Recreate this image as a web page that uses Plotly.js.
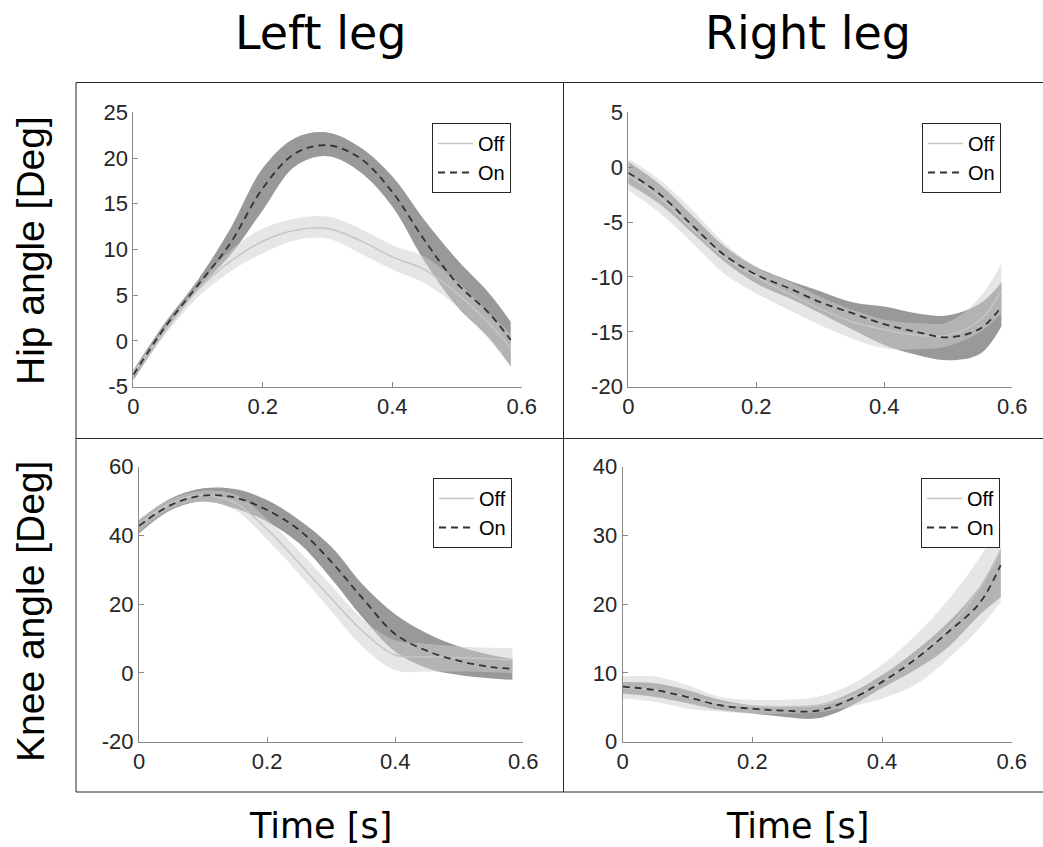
<!DOCTYPE html>
<html><head><meta charset="utf-8">
<script src="https://cdn.plot.ly/plotly-3.0.1.min.js"></script>
<style>html,body{margin:0;padding:0;background:#fff}#chart{width:1043px;height:847px}</style>
</head><body><div id="chart"></div>
<script>
// ---------- data ----------
const time = [0, 0.05, 0.1, 0.15, 0.2, 0.25, 0.3, 0.35, 0.4, 0.45, 0.5, 0.55, 0.583];

// Hip angle, left leg
const hipLeftOffMean  = [-3.5, 1.2, 5.6, 8.7, 10.9, 12.1, 12.3, 11.0, 9.2, 7.8, 5.2, 1.9, -0.8];
const hipLeftOffUpper = [-3.2, 1.7, 6.1, 9.9, 12.3, 13.4, 13.6, 12.3, 10.5, 9.2, 6.5, 3.0, 0.8];
const hipLeftOffLower = [-4.1, 0.7, 4.8, 7.6, 9.6, 11.0, 11.2, 9.6, 7.8, 6.3, 3.8, 0.1, -2.8];
const hipLeftOnMean   = [-3.7, 1.6, 6.1, 10.7, 16.7, 20.5, 21.4, 20.0, 16.3, 11.0, 6.3, 3.0, 0.1];
const hipLeftOnUpper  = [-3.2, 2.1, 6.7, 12.3, 18.9, 22.2, 22.8, 21.2, 18.0, 13.2, 8.9, 5.2, 2.1];
const hipLeftOnLower  = [-4.3, 1.0, 5.6, 9.4, 14.3, 19.1, 20.2, 18.5, 14.7, 8.7, 3.8, 0.3, -2.8];

// Hip angle, right leg
const hipRightOffMean  = [-0.7, -2.8, -5.6, -8.2, -10.0, -11.5, -12.9, -14.1, -14.8, -15.3, -15.3, -13.9, -11.2];
const hipRightOffUpper = [0.8, -1.2, -3.9, -6.9, -9.1, -10.4, -11.8, -13.0, -13.9, -14.2, -14.1, -11.8, -8.8];
const hipRightOffLower = [-2.1, -4.2, -6.9, -9.7, -11.5, -13.0, -14.4, -15.6, -16.5, -16.6, -16.3, -15.0, -13.3];
const hipRightOnMean   = [-0.5, -2.5, -5.3, -8.0, -9.8, -11.0, -12.3, -13.3, -14.3, -15.0, -15.5, -14.7, -12.7];
const hipRightOnUpper  = [0.5, -1.6, -4.4, -7.2, -9.1, -10.3, -11.3, -12.3, -12.7, -13.3, -13.5, -12.4, -10.5];
const hipRightOnLower  = [-1.5, -3.4, -6.0, -8.6, -10.6, -11.9, -13.3, -14.8, -16.2, -17.1, -17.6, -17.0, -14.5];

// Knee angle, left leg
const kneeLeftOffMean  = [43.1, 49.4, 51.8, 49.5, 41.8, 31.9, 21.7, 12.0, 5.2, 4.7, 4.5, 4.1, 3.8];
const kneeLeftOffUpper = [44.8, 50.6, 53.0, 52.0, 44.8, 35.5, 25.5, 15.5, 9.5, 8.5, 7.7, 7.3, 7.2];
const kneeLeftOffLower = [41.1, 47.7, 49.9, 47.4, 38.8, 28.8, 18.0, 7.5, 0.8, 0.4, 0.4, 0.2, 0.0];
const kneeLeftOnMean   = [42.8, 48.9, 51.6, 51.0, 47.4, 41.6, 32.4, 21.5, 11.3, 6.4, 3.5, 1.7, 1.2];
const kneeLeftOnUpper  = [44.5, 50.8, 53.7, 53.5, 50.3, 44.5, 36.8, 25.6, 17.1, 11.5, 7.7, 5.2, 4.1];
const kneeLeftOnLower  = [40.6, 47.4, 49.9, 47.9, 44.0, 37.7, 27.5, 15.9, 6.2, 1.4, -0.6, -1.6, -2.0];

// Knee angle, right leg
const kneeRightOffMean  = [7.8, 7.5, 6.5, 5.6, 5.2, 5.1, 5.3, 6.5, 8.7, 12.1, 16.2, 22.3, 27.9];
const kneeRightOffUpper = [9.5, 9.5, 8.2, 6.5, 6.1, 6.1, 6.5, 8.2, 11.2, 15.3, 20.4, 26.7, 32.0];
const kneeRightOffLower = [6.3, 5.8, 4.8, 4.4, 4.1, 4.1, 4.3, 5.1, 6.3, 8.2, 11.9, 16.5, 20.3];
const kneeRightOnMean   = [8.0, 7.5, 6.5, 5.3, 4.8, 4.5, 4.5, 6.1, 8.7, 11.9, 15.8, 20.1, 25.7];
const kneeRightOnUpper  = [8.7, 8.5, 7.5, 6.1, 5.3, 5.1, 5.3, 7.0, 9.7, 13.1, 17.2, 22.5, 28.1];
const kneeRightOnLower  = [7.0, 6.5, 5.6, 4.6, 4.1, 3.6, 3.4, 5.1, 7.8, 10.4, 13.6, 18.4, 21.0];

// tick labels
const timeTicks = [0, 0.2, 0.4, 0.6];
const timeTickText = ['0', '0.2', '0.4', '0.6'];
const hipLeftTicks = [-5, 0, 5, 10, 15, 20, 25];
const hipRightTicks = [-20, -15, -10, -5, 0, 5];
const kneeLeftTicks = [-20, 0, 20, 40, 60];
const kneeRightTicks = [0, 10, 20, 30, 40];

const seriesNames = ['Off', 'On'];
const columnTitles = ['Left leg', 'Right leg'];
const rowTitles = ['Hip angle [Deg]', 'Knee angle [Deg]'];
const xTitle = 'Time [s]';

// ---------- figure ----------
const W = 1043, H = 847;
const px = v => v / W;
const py = v => 1 - v / H;

const ON_FILL = '#999999';
const OFF_FILL = 'rgba(205,205,205,0.5)';
const OFF_LINE = '#c6c6c6';
const ON_LINE = '#333333';

const panels = [
  {xa:'x',  ya:'y',  leg:'legend',  off:[hipLeftOffMean, hipLeftOffUpper, hipLeftOffLower],   on:[hipLeftOnMean, hipLeftOnUpper, hipLeftOnLower]},
  {xa:'x2', ya:'y2', leg:'legend2', off:[hipRightOffMean, hipRightOffUpper, hipRightOffLower], on:[hipRightOnMean, hipRightOnUpper, hipRightOnLower]},
  {xa:'x3', ya:'y3', leg:'legend3', off:[kneeLeftOffMean, kneeLeftOffUpper, kneeLeftOffLower], on:[kneeLeftOnMean, kneeLeftOnUpper, kneeLeftOnLower]},
  {xa:'x4', ya:'y4', leg:'legend4', off:[kneeRightOffMean, kneeRightOffUpper, kneeRightOffLower], on:[kneeRightOnMean, kneeRightOnUpper, kneeRightOnLower]}
];

const traces = [];
panels.forEach(p => {
  const base = {x: time, xaxis: p.xa, yaxis: p.ya, mode: 'lines', hoverinfo: 'skip', showlegend: false, legend: p.leg};
  traces.push(Object.assign({}, base, {y: p.on[2], line: {width: 0, shape: 'spline'}}));
  traces.push(Object.assign({}, base, {y: p.on[1], line: {width: 0, shape: 'spline'}, fill: 'tonexty', fillcolor: ON_FILL}));
  traces.push(Object.assign({}, base, {y: p.off[2], line: {width: 0, shape: 'spline'}}));
  traces.push(Object.assign({}, base, {y: p.off[1], line: {width: 0, shape: 'spline'}, fill: 'tonexty', fillcolor: OFF_FILL}));
  traces.push(Object.assign({}, base, {y: p.off[0], name: seriesNames[0], showlegend: true, line: {width: 1.5, color: OFF_LINE, shape: 'spline'}}));
  traces.push(Object.assign({}, base, {y: p.on[0], name: seriesNames[1], showlegend: true, line: {width: 1.8, color: ON_LINE, dash: '7px,5px', shape: 'spline'}}));
});

const tickFont = {family: 'Liberation Sans, Arial, sans-serif', size: 22, color: '#262626'};
function xAxis(x0, x1, y0, y1, anchor) {
  return {domain: [px(x0), px(x1)], anchor: anchor, range: [0, 0.6], tickvals: timeTicks, ticktext: timeTickText,
    showline: true, linecolor: '#8a8a8a', linewidth: 1, ticks: 'inside', ticklen: 5, tickcolor: '#8a8a8a',
    showgrid: false, zeroline: false, tickfont: tickFont, fixedrange: true};
}
function yAxis(y0, y1, anchor, ticks) {
  return {domain: [py(y1), py(y0)], anchor: anchor, range: [ticks[0], ticks[ticks.length - 1]], tickvals: ticks,
    ticktext: ticks.map(String), showline: true, linecolor: '#8a8a8a', linewidth: 1, ticks: 'inside', ticklen: 5,
    tickcolor: '#8a8a8a', showgrid: false, zeroline: false, tickfont: tickFont, fixedrange: true};
}
function legendAt(xr, yt) {
  return {x: px(xr), y: py(yt), xref: 'paper', yref: 'paper', xanchor: 'right', yanchor: 'top',
    bgcolor: '#ffffff', bordercolor: '#262626', borderwidth: 1, traceorder: 'normal', itemwidth: 35,
    font: {family: 'Liberation Sans, Arial, sans-serif', size: 20, color: '#000000'}, tracegroupgap: 0};
}
const frameLine = {color: '#262626', width: 1};
const shapes = [
  {type: 'line', xref: 'paper', yref: 'paper', x0: px(76), x1: px(1043), y0: py(82.5), y1: py(82.5), line: frameLine},
  {type: 'line', xref: 'paper', yref: 'paper', x0: px(76), x1: px(1043), y0: py(438.5), y1: py(438.5), line: frameLine},
  {type: 'line', xref: 'paper', yref: 'paper', x0: px(76), x1: px(1043), y0: py(792), y1: py(792), line: frameLine},
  {type: 'line', xref: 'paper', yref: 'paper', x0: px(76), x1: px(76), y0: py(82.5), y1: py(792), line: frameLine},
  {type: 'line', xref: 'paper', yref: 'paper', x0: px(563.5), x1: px(563.5), y0: py(82.5), y1: py(792), line: frameLine}
];
const titleFont = {family: 'DejaVu Sans, sans-serif', size: 46, color: '#000000'};
const xTitleFont = {family: 'DejaVu Sans, sans-serif', size: 35, color: '#000000'};
const yTitleFont = {family: 'Liberation Sans, Arial, sans-serif', size: 39, color: '#000000'};
const ann = (text, x, y, font, rot) => ({text: text, x: px(x), y: py(y), xref: 'paper', yref: 'paper',
  xanchor: 'center', yanchor: 'middle', showarrow: false, font: font, textangle: rot || 0});
const annotations = [
  ann(columnTitles[0], 320, 33, titleFont),
  ann(columnTitles[1], 808, 33, titleFont),
  ann(xTitle, 320, 826, xTitleFont),
  ann(xTitle, 797, 826, xTitleFont),
  ann(rowTitles[0], 30, 251, yTitleFont, -90),
  ann(rowTitles[1], 30, 612, yTitleFont, -90)
];

const layout = {
  width: W, height: H, margin: {l: 0, r: 0, t: 0, b: 0, pad: 0},
  paper_bgcolor: '#ffffff', plot_bgcolor: 'rgba(0,0,0,0)', showlegend: true,
  xaxis: xAxis(133.3, 521.7, 112.3, 386.7, 'y'),
  yaxis: yAxis(112.3, 386.7, 'x', hipLeftTicks),
  xaxis2: xAxis(628.3, 1012.3, 112.3, 386.7, 'y2'),
  yaxis2: yAxis(112.3, 386.7, 'x2', hipRightTicks),
  xaxis3: xAxis(139, 523.3, 466.7, 741.7, 'y3'),
  yaxis3: yAxis(466.7, 741.7, 'x3', kneeLeftTicks),
  xaxis4: xAxis(622.7, 1011.7, 466.7, 741.7, 'y4'),
  yaxis4: yAxis(466.7, 741.7, 'x4', kneeRightTicks),
  legend: legendAt(511, 123),
  legend2: legendAt(1001, 123),
  legend3: legendAt(512, 478),
  legend4: legendAt(1000, 478),
  shapes: shapes,
  annotations: annotations
};

Plotly.newPlot('chart', traces, layout, {displayModeBar: false, staticPlot: true});
</script>
</body></html>
